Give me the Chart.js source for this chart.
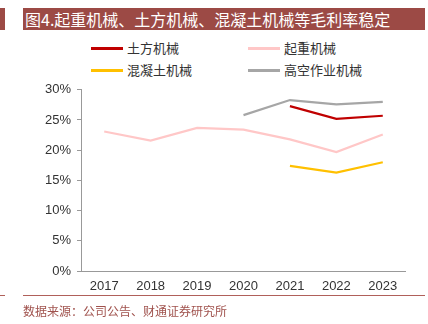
<!DOCTYPE html>
<html><head><meta charset="utf-8">
<script src="https://cdn.jsdelivr.net/npm/chart.js@4/dist/chart.umd.min.js"></script>
<style>
html,body{margin:0;padding:0;background:#fff;width:428px;height:324px;overflow:hidden;font-family:"Noto Sans CJK SC",sans-serif}
#tb{position:absolute;left:23px;top:8px;width:402px;height:22px;background:#9C4A45;color:#fff;font-size:16px;line-height:22px;padding-left:2px;box-sizing:border-box;white-space:nowrap}
#tb2{position:absolute;left:0;top:8px;width:5px;height:22px;background:#9C4A45}
#leg{position:absolute;left:0;top:38px;width:428px;height:44px}
.li{position:absolute;font-size:13px;color:#333;line-height:16px;white-space:nowrap}
.li span{display:inline-block;width:32px;height:3px;vertical-align:middle;margin-right:4px;position:relative;top:-1px}
#cw{position:absolute;left:0;top:76px;width:406px;height:220px}
#bl{position:absolute;left:23px;top:295px;width:402px;height:1px;background:#B0605A}
#bl2{position:absolute;left:0;top:295px;width:5px;height:1px;background:#B0605A}
#src{position:absolute;left:23px;top:302px;font-size:12px;color:#A0524D;white-space:nowrap}
</style></head><body>
<div id="tb2"></div>
<div id="tb">图4.起重机械、土方机械、混凝土机械等毛利率稳定</div>
<div id="leg"></div>
<div id="cw"><canvas id="c"></canvas></div>
<div id="bl2"></div><div id="bl"></div>
<div id="src">数据来源：公司公告、财通证券研究所</div>
<script>
const categories = ['2017','2018','2019','2020','2021','2022','2023'];
const earthmoving = [null,null,null,null,27.3,25.2,25.7];
const lifting = [23.1,21.6,23.7,23.4,21.8,19.7,22.6];
const concrete = [null,null,null,null,17.4,16.3,18.0];
const aerial = [null,null,null,25.8,28.3,27.6,28.0];
const seriesNames = ['土方机械','起重机械','混凝土机械','高空作业机械'];
const yTicks = [0,5,10,15,20,25,30];

const colors = ['#C00000','#FFC7C7','#FFC000','#A6A6A6'];
const dataArr = [earthmoving,lifting,concrete,aerial];
const datasets = dataArr.map((d,i)=>({label:seriesNames[i],data:d,borderColor:colors[i],backgroundColor:colors[i],borderWidth:2.2,pointRadius:0,tension:0,spanGaps:false}));

const legPos = [[91,48],[248,48],[91,70],[248,70]];
const leg = document.getElementById('leg');
datasets.forEach((ds,i)=>{
  const d=document.createElement('div');d.className='li';
  d.style.left=legPos[i][0]+'px';d.style.top=(legPos[i][1]-38-8)+'px';
  d.innerHTML='<span style="background:'+ds.borderColor+'"></span>'+ds.label;
  leg.appendChild(d);
});

new Chart(document.getElementById('c'),{
  type:'line',
  data:{labels:categories,datasets},
  options:{
    responsive:true,maintainAspectRatio:false,animation:false,
    layout:{padding:{left:0,right:0,top:6,bottom:0}},
    plugins:{legend:{display:false},tooltip:{enabled:false}},
    scales:{
      x:{offset:true,grid:{display:false},border:{display:true,color:'#999'},
         ticks:{color:'#333',font:{family:'"Liberation Sans",Arial,sans-serif',size:13},padding:0,maxRotation:0},
         afterFit:s=>{s.height=25;}},
      y:{min:0,max:30,afterBuildTicks:s=>{s.ticks=yTicks.map(v=>({value:v}));},
         grid:{display:true,drawOnChartArea:false,tickLength:4,color:'#999'},border:{display:true,color:'#999'},
         ticks:{color:'#333',font:{family:'"Liberation Sans",Arial,sans-serif',size:13},padding:6,callback:v=>v+'%'},
         afterFit:s=>{s.width=81;}}
    }
  }
});
</script>
</body></html>
